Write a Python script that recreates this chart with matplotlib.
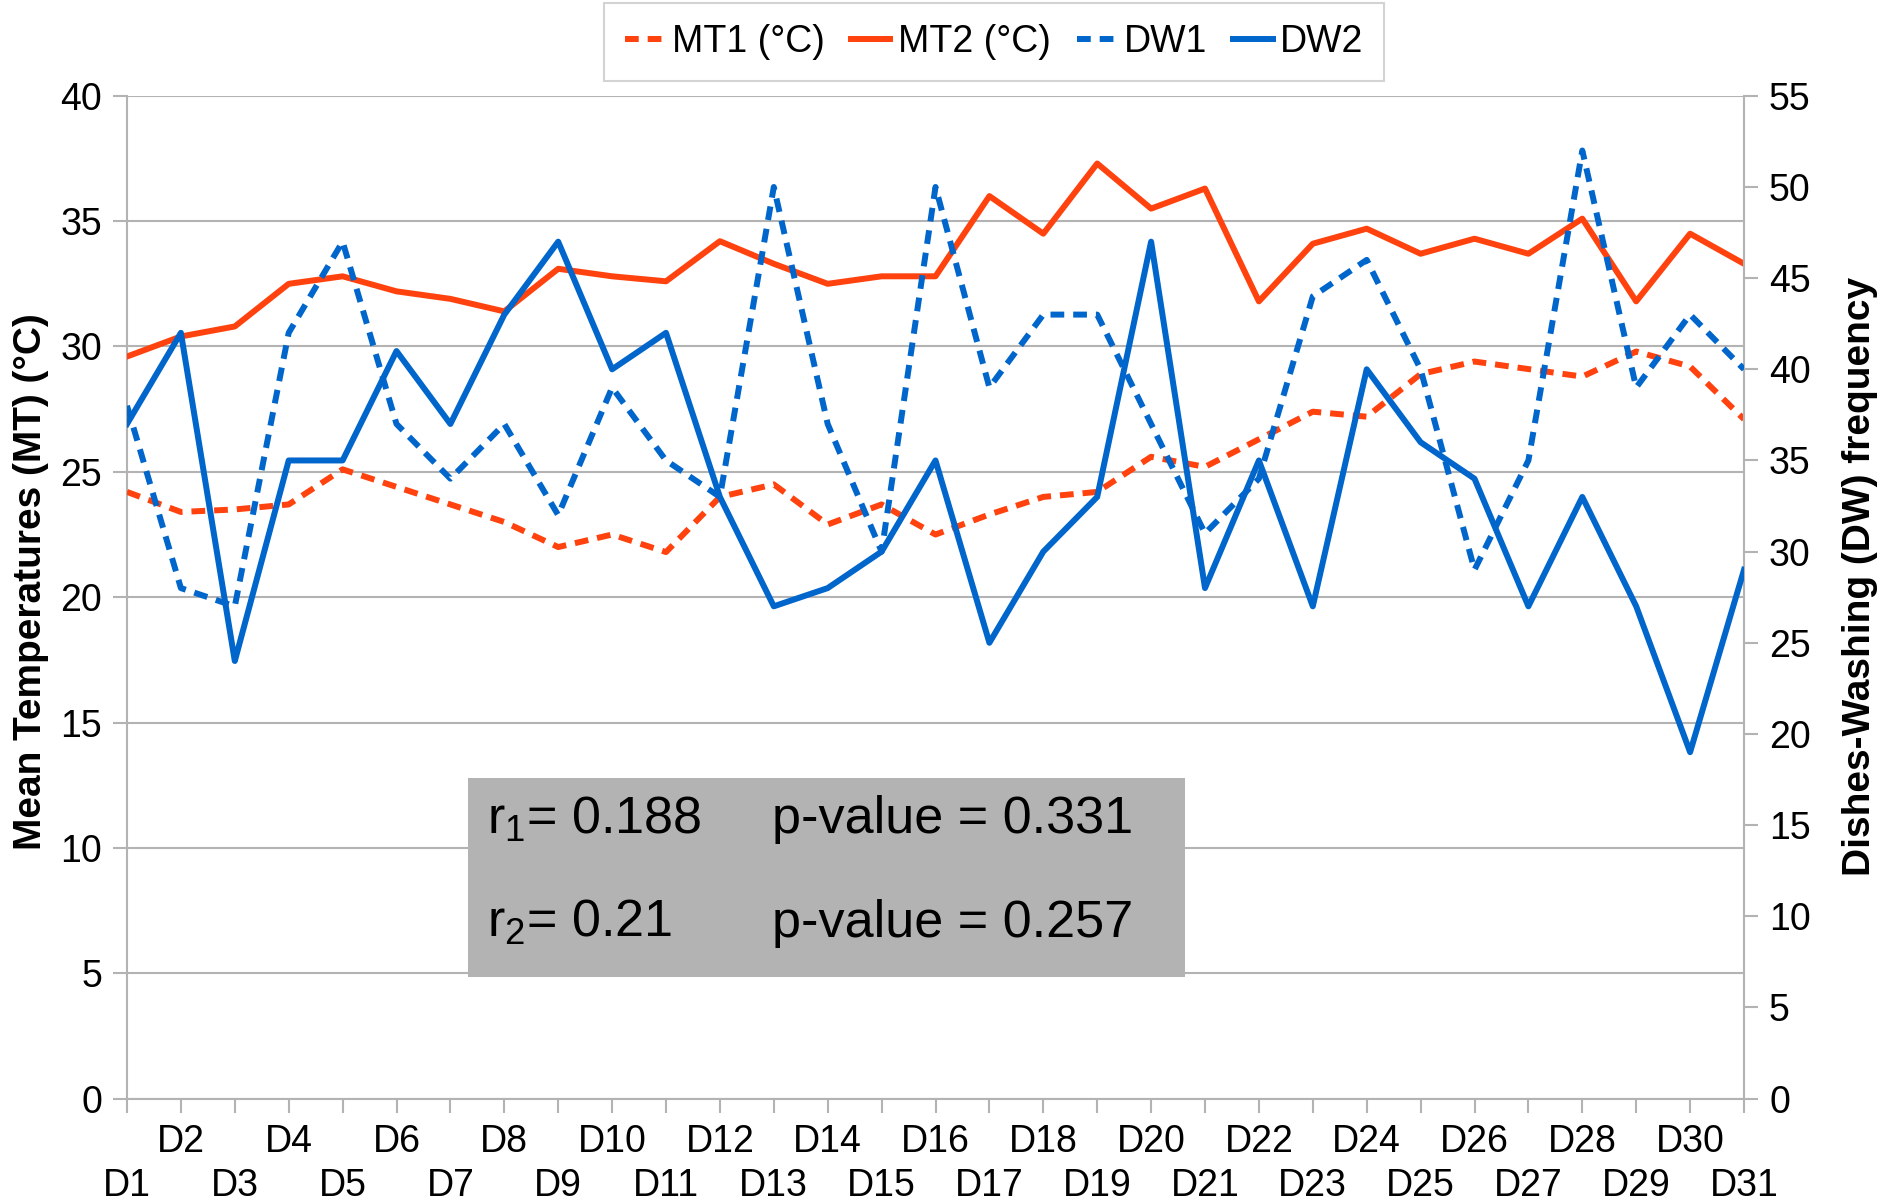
import matplotlib
matplotlib.use("Agg")
import matplotlib.pyplot as plt
from matplotlib.patches import Rectangle

plt.rcParams['font.family'] = ['Liberation Sans', 'DejaVu Sans']
plt.rcParams['mathtext.fontset'] = 'custom'
plt.rcParams['mathtext.rm'] = 'Liberation Sans'
plt.rcParams['mathtext.it'] = 'Liberation Sans'

days = [f"D{i}" for i in range(1, 32)]
mt1 = [24.2, 23.4, 23.5, 23.7, 25.1, 24.4, 23.7, 23.0, 22.0, 22.5, 21.8, 24.0, 24.5, 22.9, 23.7, 22.5,
       23.3, 24.0, 24.2, 25.6, 25.2, 26.3, 27.4, 27.2, 28.9, 29.4, 29.1, 28.8, 29.8, 29.2, 27.1]
mt2 = [29.6, 30.4, 30.8, 32.5, 32.8, 32.2, 31.9, 31.4, 33.1, 32.8, 32.6, 34.2, 33.3, 32.5, 32.8, 32.8,
       36.0, 34.5, 37.3, 35.5, 36.3, 31.8, 34.1, 34.7, 33.7, 34.3, 33.7, 35.1, 31.8, 34.5, 33.3]
dw1 = [38, 28, 27, 42, 47, 37, 34, 37, 32, 39, 35, 33, 50, 37, 30, 50,
       39, 43, 43, 37, 31, 34, 44, 46, 40, 29, 35, 52, 39, 43, 40]
dw2 = [37, 42, 24, 35, 35, 41, 37, 43, 47, 40, 42, 33, 27, 28, 30, 35,
       25, 30, 33, 47, 28, 35, 27, 40, 36, 34, 27, 33, 27, 19, 29]
left_ticks = list(range(0, 41, 5))
right_ticks = list(range(0, 56, 5))
stats_r = [r"r$_{1}$= 0.188", r"r$_{2}$= 0.21"]
stats_p = ["p-value = 0.331", "p-value = 0.257"]

ORANGE = '#FF420E'
BLUE = '#0066CC'
GRID = '#B3B3B3'
FS = 27

fig = plt.figure(figsize=(18.92, 12.04), dpi=100)
ax = fig.add_axes([127/1892, 1 - 1098.6/1204, (1744-127)/1892, (1098.6-95.8)/1204])
ax2 = ax.twinx()

x = list(range(len(days)))
lw = 4.3
dash = (2.3, 1.5)
l1, = ax.plot(x, mt1, color=ORANGE, lw=lw, dashes=dash, dash_capstyle='butt', label='MT1 (°C)', zorder=3)
l2, = ax.plot(x, mt2, color=ORANGE, lw=lw, label='MT2 (°C)', zorder=3)
l3, = ax2.plot(x, dw1, color=BLUE, lw=lw, dashes=dash, dash_capstyle='butt', label='DW1', zorder=3)
l4, = ax2.plot(x, dw2, color=BLUE, lw=lw, label='DW2', zorder=3)

ax.set_xlim(0, len(days) - 1)
ax.set_ylim(0, 40)
ax2.set_ylim(0, 55)
ax.set_yticks(left_ticks)
ax2.set_yticks(right_ticks)
ax.yaxis.grid(True, color=GRID, lw=1.5)
ax.set_axisbelow(True)

# odd days (D1, D3, ...) on lower row, even days on upper row
ax.set_xticks(x[0::2])
ax.set_xticklabels(days[0::2])
ax.set_xticks(x[1::2], minor=True)
ax.set_xticklabels(days[1::2], minor=True)

for a in (ax, ax2):
    for s in a.spines.values():
        s.set_visible(False)
for a, side in ((ax, 'left'), (ax2, 'right'), (ax, 'bottom')):
    a.spines[side].set_visible(True)
    a.spines[side].set_color(GRID)
    a.spines[side].set_linewidth(1.5)

ax.tick_params(axis='y', length=10, width=1.5, color=GRID, labelsize=FS, pad=8)
ax2.tick_params(axis='y', length=10, width=1.5, color=GRID, labelsize=FS, pad=8)
ax.tick_params(axis='x', which='major', length=10, width=1.5, color=GRID, labelsize=FS, pad=40)
ax.tick_params(axis='x', which='minor', length=10, width=1.5, color=GRID, labelsize=FS, pad=8)

ax.set_ylabel('Mean Temperatures (MT) (°C)', fontsize=28, fontweight='bold')
ax2.set_ylabel('Dishes-Washing (DW) frequency', fontsize=28, fontweight='bold')
ax.yaxis.set_label_coords(-0.048, 0.516)
ax2.yaxis.set_label_coords(1.0605, 0.521)

leg = fig.legend(handles=[l1, l2, l3, l4], loc='center', bbox_to_anchor=(994/1892, 1 - 42/1204),
                 ncol=4, fontsize=FS, frameon=True, fancybox=False, handlelength=1.05,
                 handletextpad=0.2, columnspacing=0.7, borderpad=0.55)
leg.get_frame().set_edgecolor('#C8C8C8')
leg.get_frame().set_linewidth(1.5)

fig.patches.append(Rectangle((468/1892, 1 - 977/1204), (1185-468)/1892, (977-778)/1204,
                             transform=fig.transFigure, facecolor='#B3B3B3', edgecolor='none', zorder=5))
for i, (r, p) in enumerate(zip(stats_r, stats_p)):
    yy = 1 - (820 + 103*i)/1204
    fig.text(487/1892, yy, r, fontsize=37.5, va='center', ha='left', zorder=6)
    fig.text(772/1892, yy, p, fontsize=37.5, va='center', ha='left', zorder=6)

fig.savefig('out.png', dpi=100)
